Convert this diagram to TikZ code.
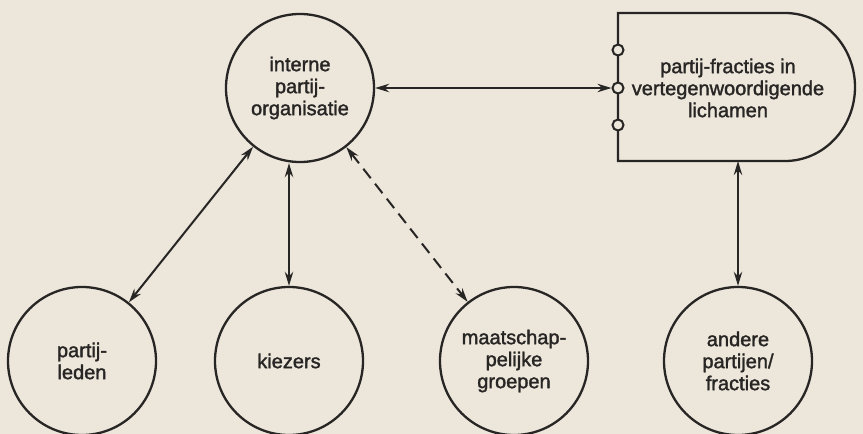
\documentclass[tikz,border=0pt]{standalone}
\usepackage{fontspec}
\usepackage{tikz}
\usetikzlibrary{arrows.meta,calc}
\newfontfamily\labelfont{Liberation Sans}[FakeBold=1.6]
\definecolor{paper}{RGB}{236,230,219}
\definecolor{ink}{RGB}{40,38,36}

\begin{document}
\begin{tikzpicture}[x=0.5pt,y=0.5pt,
  rol/.style={draw=ink,line width=1.15pt,circle,minimum size=74pt,inner sep=0pt,
    align=center,text=ink,font=\labelfont\fontsize{10}{11}\selectfont},
  poort/.style={draw=ink,line width=1pt,circle,fill=paper,minimum size=5.5pt,inner sep=0pt},
  pijl/.style={draw=ink,line width=1pt,{Stealth[length=7pt,width=4.2pt]}-{Stealth[length=7pt,width=4.2pt]}},
  stippel/.style={pijl,dash pattern=on 6pt off 3.5pt}]
% achtergrond
\fill[paper] (0,0) rectangle (863,-434);
\useasboundingbox (0,0) rectangle (863,-434);

% bovenste rij
\node[rol] (org) at (300,-88) {interne\\partij-\\organisatie};

% fracties-lichaam
\draw[ink,line width=1.15pt] (785,-13) -- (618,-13) -- (618,-161) -- (785,-161)
  arc[start angle=-90,end angle=90,x radius=35pt,y radius=37pt];
\node[poort] (p1) at (618,-50) {};
\node[poort] (p2) at (618,-88) {};
\node[poort] (p3) at (618,-125) {};
\node[align=center,text=ink,font=\labelfont\fontsize{10}{11}\selectfont] (frac) at (728,-88)
  {partij-fracties in\\vertegenwoordigende\\lichamen};
\coordinate (fracbot) at (738,-161);

% onderste rij
\node[rol] (leden) at (82,-361) {partij-\\leden};
\node[rol] (kiez) at (289,-361) {kiezers};
\node[rol] (maat) at (514,-361) {maatschap-\\pelijke\\groepen};
\node[rol] (ander) at (738,-361) {andere\\partijen/\\fracties};

% verbindingen
\draw[pijl] (org) -- (p2);
\draw[pijl] (org) -- (leden);
\draw[pijl] (kiez.north |- org.south) -- (kiez);
\draw[stippel] (org) -- (maat);
\draw[pijl] (fracbot) -- (ander);
\end{tikzpicture}
\end{document}
